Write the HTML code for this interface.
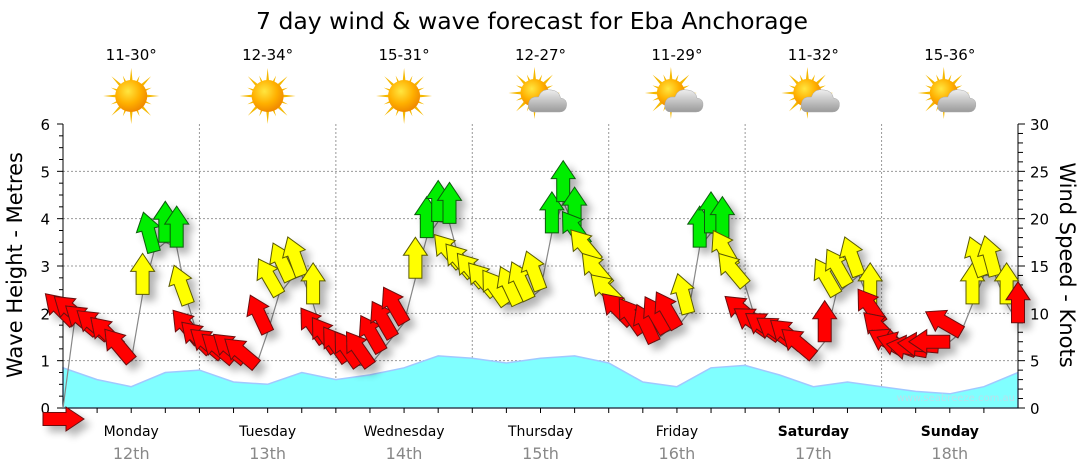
<!DOCTYPE html>
<html><head><meta charset="utf-8">
<style>
html,body{margin:0;padding:0;background:#fff;}
svg{display:block;font-family:"DejaVu Sans","Liberation Sans",sans-serif;}
</style></head>
<body>
<svg id="chart" width="1080" height="475" viewBox="0 0 1080 475" xmlns="http://www.w3.org/2000/svg">
<defs>
<filter id="shadow" x="-50%" y="-50%" width="200%" height="200%">
<feGaussianBlur in="SourceAlpha" stdDeviation="4"/>
<feOffset dx="6" dy="6" result="b"/>
<feComponentTransfer><feFuncA type="linear" slope="0.3"/></feComponentTransfer>
<feMerge><feMergeNode/><feMergeNode in="SourceGraphic"/></feMerge>
</filter>
<radialGradient id="sunG" cx="40%" cy="35%" r="65%">
<stop offset="0" stop-color="#ffe640"/><stop offset="0.6" stop-color="#ffb000"/><stop offset="1" stop-color="#f08a00"/>
</radialGradient>
<linearGradient id="cloudG" x1="0" y1="0" x2="0" y2="1">
<stop offset="0" stop-color="#eeeeee"/><stop offset="1" stop-color="#9a9a9a"/>
</linearGradient>
</defs>
<text x="532" y="29" text-anchor="middle" font-size="23.5" fill="#000">7 day wind &amp; wave forecast for Eba Anchorage</text>
<g id="grid"></g>
<g id="swell"></g>
<g id="axes"></g>
<text x="1015" y="401" text-anchor="end" font-size="10" fill="#b8e0ec">www.seabreeze.com.au</text>
<g id="windline"></g>
<g id="arrows" filter="url(#shadow)"></g>
<g id="days"></g>
<g id="weather"></g>
<text transform="translate(22,265) rotate(-90)" text-anchor="middle" font-size="21" fill="#000">Wave Height - Metres</text>
<text transform="translate(1060,265) rotate(90)" text-anchor="middle" font-size="21" fill="#000">Wind Speed - Knots</text>
</svg>
<script>
const dayNames = ["Monday","Tuesday","Wednesday","Thursday","Friday","Saturday","Sunday"];
const dayDates = ["12th","13th","14th","15th","16th","17th","18th"];
const weekend = [false,false,false,false,false,true,true];
const tempRanges = ["11-30°","12-34°","15-31°","12-27°","11-29°","11-32°","15-36°"];
const cloudy = [false,false,false,true,true,true,true];
const waveTicks = [0,1,2,3,4,5,6];
const windTicks = [0,5,10,15,20,25,30];
// wind, every 2 hours from Monday 00:00
const windSpeed = [0,9,9,8,7.5,6.5,5,12,16.5,17.5,17,11,
  7,6,5.5,5,5,4.5,8,12,13.5,14,11,7,
  6,5,4.5,4.5,6,7.5,9,13.7,18,19.7,19.5,15,
  14,13,12,11,11,11.5,12.5,18.5,21.8,19,17.2,15.5,
  13,11,9,8,7,8,8.5,10,17,18.5,18,15,
  13,9,8,7.5,7,6.5,5.5,7,12,13,14,11,
  9,7,6,6,6,6.5,7,8,11,14,14,11,9];
const windDir = [90,-45,-50,-50,-50,-45,-40,0,-15,0,0,-20,
  -40,-45,-50,-50,-50,-50,-25,-30,-25,-20,0,-35,
  -35,-35,-35,-35,-30,-30,-30,0,0,0,0,-40,
  -40,-40,-40,-35,-25,-25,-20,0,0,0,-35,-40,
  -40,-45,-45,-35,-25,-30,-30,-15,0,0,0,-30,
  -40,-50,-55,-55,-55,-50,-50,0,-30,-30,-20,0,
  -35,-45,-60,-70,-80,-85,-90,-60,0,-20,-15,0,0];
// swell height, every 6 hours
const swellHeight = [0.85,0.6,0.45,0.75,0.8,0.55,0.5,0.75,0.6,0.7,0.85,1.1,1.05,0.95,1.05,1.1,0.95,0.55,0.45,0.85,0.9,0.7,0.45,0.55,0.45,0.35,0.3,0.45,0.75];

const NS="http://www.w3.org/2000/svg";
const X0=63, X1=1018, Y0=408, Y1=124, HOURS=168;
function xOfHour(h){return X0+(X1-X0)*h/HOURS;}
function yWave(m){return Y0-(Y0-Y1)*m/6;}
function yWind(k){return Y0-(Y0-Y1)*k/30;}
function mk(tag,attrs,parent){const e=document.createElementNS(NS,tag);for(const k in attrs)e.setAttribute(k,attrs[k]);parent.appendChild(e);return e;}
const grid=document.getElementById('grid'),axes=document.getElementById('axes');

waveTicks.forEach(v=>{if(v>0&&v<6){const l=mk('line',{x1:X0,x2:X1,y1:yWave(v),y2:yWave(v),stroke:'#999','stroke-dasharray':'2,2','stroke-width':1},grid);

}});
for(let d=1;d<7;d++){const x=xOfHour(d*24);const l=mk('line',{x1:x,x2:x,y1:Y1,y2:Y0,stroke:'#999','stroke-dasharray':'2,2','stroke-width':1},grid);

}

{let d=`M${X0},${Y0}`;swellHeight.forEach((v,i)=>{d+=` L${xOfHour(i*6).toFixed(1)},${yWave(v).toFixed(1)}`;});d+=` L${X1},${Y0} Z`;
const p=mk('path',{d:d,fill:'#80ffff',stroke:'#a0c8ff','stroke-width':1.5},document.getElementById('swell'));

}

{const a=mk('line',{x1:X0,x2:X0,y1:Y1,y2:Y0,stroke:'#000'},axes);
const b=mk('line',{x1:X1,x2:X1,y1:Y1,y2:Y0,stroke:'#000'},axes);
const c=mk('line',{x1:X0,x2:X1,y1:Y0,y2:Y0,stroke:'#000'},axes);}
for(let i=0;i<=24;i++){const y=yWave(i/4);mk('line',{x1:X0-(i%4?4:6),x2:X0,y1:y,y2:y,stroke:'#000'},axes);}
for(let i=0;i<=30;i++){const y=yWind(i);mk('line',{x1:X1,x2:X1+(i%5?5:7),y1:y,y2:y,stroke:'#000'},axes);}
for(let h=6;h<HOURS;h+=6){const x=xOfHour(h);mk('line',{x1:x,x2:x,y1:Y0,y2:Y0+5,stroke:'#000'},axes);}
waveTicks.forEach(v=>{const t=mk('text',{x:50,y:yWave(v)+6,'text-anchor':'end','font-size':15,fill:'#000'},axes);t.textContent=v;

});
windTicks.forEach(v=>{const t=mk('text',{x:1030,y:yWind(v)+6,'text-anchor':'start','font-size':15,fill:'#000'},axes);t.textContent=v;

});

const pts=windSpeed.map((s,i)=>[xOfHour(i*2),yWind(s)]);
{const l=mk('polyline',{points:pts.map(p=>p.join(',')).join(' '),fill:'none',stroke:'#888','stroke-width':1.2},document.getElementById('windline'));

}
function colorOf(s){return s<9.5?['#ff0000','#6a1010']:(s<16?['#ffff00','#5a5a00']:['#00ee00','#0a5a0a']);}
const ag=document.getElementById('arrows');
windSpeed.forEach((s,i)=>{
  let [x,y]=pts[i];
  if(s===0){x-=20;y+=11;}
  const c=colorOf(s);
  const a=mk('path',{d:'M-6.5,0 L-6.5,-23 L-12,-23 L0,-41 L12,-23 L6.5,-23 L6.5,0 Z',fill:c[0],stroke:c[1],'stroke-width':1,transform:`translate(${x.toFixed(1)},${y.toFixed(1)}) rotate(${windDir[i]})`},ag);
  
  
});

const dg=document.getElementById('days');
dayNames.forEach((n,i)=>{const cx=xOfHour(i*24+12);
  const t=mk('text',{x:cx,y:436,'text-anchor':'middle','font-size':14,fill:'#000','font-weight':weekend[i]?'bold':'normal'},dg);t.textContent=n;
  
  
  const d=mk('text',{x:cx,y:459,'text-anchor':'middle','font-size':16,fill:'#888'},dg);d.textContent=dayDates[i];
  
  
});

const wg=document.getElementById('weather');
tempRanges.forEach((tr,i)=>{const cx=xOfHour(i*24+12);
  const t=mk('text',{x:cx,y:60,'text-anchor':'middle','font-size':15,fill:'#000'},wg);t.textContent=tr;
  
  
  const g=mk('g',{transform:`translate(${cx},96)`},wg);
  
  
  const sx=cloudy[i]?-6:0,sy=cloudy[i]?-3:0,r=cloudy[i]?14:16;
  for(let k=0;k<16;k++){const ang=k*22.5*Math.PI/180;const L=k%2?r+6:r+12;
    const ax=sx+Math.sin(ang)*L,ay=sy-Math.cos(ang)*L;
    const px=Math.cos(ang)*3,py=Math.sin(ang)*3;
    mk('polygon',{points:`${sx+px},${sy+py} ${ax},${ay} ${sx-px},${sy-py}`,fill:'#f5b800'},g);}
  mk('circle',{cx:sx,cy:sy,r:r,fill:'url(#sunG)'},g);
  if(cloudy[i]){mk('path',{d:'M-6,16 Q-13,16 -12,8 Q-11,0 -2,1 Q1,-8 11,-6 Q19,-5 20,2 Q27,3 26,10 Q25,16 19,16 Z',fill:'url(#cloudG)',stroke:'#aaa','stroke-width':0.5},g);}
});
</script>
</body></html>
